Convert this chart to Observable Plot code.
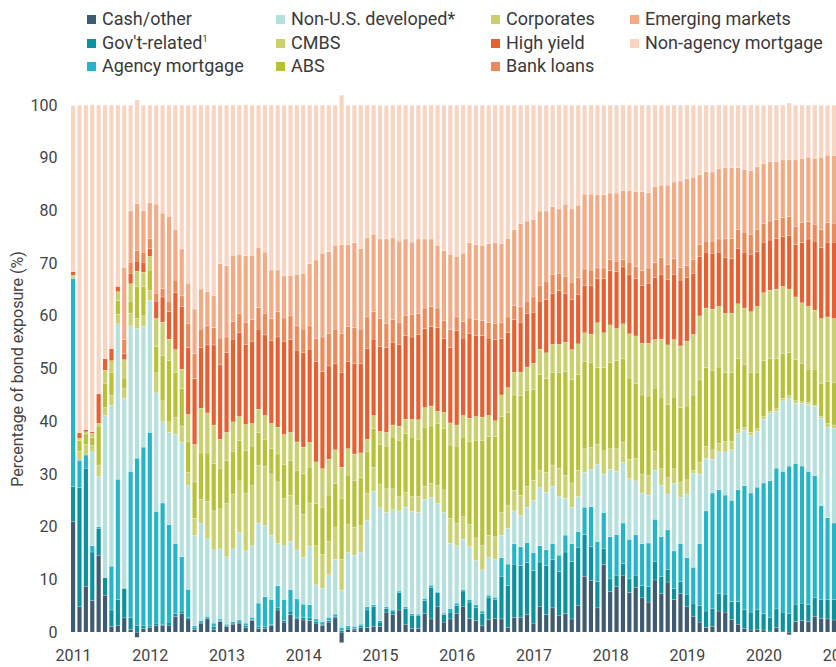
<!DOCTYPE html>
<html><head><meta charset="utf-8">
<script src="https://cdn.jsdelivr.net/npm/d3@7"></script>
<script src="https://cdn.jsdelivr.net/npm/@observablehq/plot@0.6"></script>
<style>
body{margin:0;background:#fff;font-family:Roboto,sans-serif;overflow:hidden}
#legend{position:relative;height:80px;width:836px}
.item{position:absolute;font-size:18px;color:#3a3a3a;line-height:20px;white-space:nowrap}
.sw{display:inline-block;width:9px;height:9px;margin-right:6px;vertical-align:1px}
sup{font-size:9px;vertical-align:7px;line-height:0}
</style></head><body>
<div id="legend"></div><div id="chart"></div>
<script>
const startMonth = "2011-01-01";
const axisEndMonth = "2021-02-01";
const seriesNames = ["Cash/other","Gov't-related","Agency mortgage","Non-U.S. developed*","CMBS","ABS","Corporates","High yield","Bank loans","Emerging markets","Non-agency mortgage"];
const seriesColors = ["#3f5b70","#0a929f","#24b6c6","#b4e0de","#cad26e","#b7c135","#c9d06c","#e8602f","#ee8a5a","#f3ab86","#f9d4c0"];
const yTicks = [0,10,20,30,40,50,60,70,80,90,100];

const cash = [21.0,4.8,8.7,6.0,14.6,7.0,1.1,1.2,2.7,0.5,-1.0,0.7,0.9,1.3,1.2,1.2,3.0,3.5,2.5,0.5,1.7,2.5,0.5,2.0,1.1,1.5,1.7,0.9,2.2,0.7,0.7,1.2,4.2,1.9,3.3,2.5,2.3,2.2,1.7,1.3,1.9,2.7,-2.0,0.5,0.4,0.9,0.9,1.1,1.1,3.8,3.3,4.2,1.5,0.7,0.7,3.5,2.5,4.8,1.9,2.5,3.5,4.8,2.6,2.2,1.3,2.4,2.6,2.5,0.9,2.8,2.8,3.3,1.7,4.8,3.3,4.6,3.2,3.5,2.5,5.0,10.6,9.8,4.6,12.8,7.7,8.6,10.8,7.5,8.5,6.5,5.7,9.9,7.3,9.5,6.2,7.3,4.8,3.0,1.9,0.9,1.1,4.0,3.8,2.4,1.5,0.7,0.4,0.5,0.4,0.2,0.9,0.2,-0.5,2.0,2.2,2.0,3.0,2.6,2.5,2.3];
const govRelated = [6.6,22.6,22.4,9.2,5.1,3.3,3.1,5.0,5.6,2.3,1.3,0.6,0.3,0.4,0.3,0.7,0.5,0.5,0.3,0.3,0.2,0.2,0.5,0.2,0.2,0.2,0.2,0.3,0.2,0.3,0.3,0.2,0.4,0.3,0.7,0.3,0.5,0.5,0.3,0.2,0.3,0.3,0.3,0.3,0.3,0.3,3.3,3.7,0.8,0.7,0.7,3.3,3.0,2.5,2.5,2.5,6.0,2.7,1.4,1.3,1.5,3.0,3.1,2.4,2.2,4.1,3.6,8.1,7.9,10.1,9.8,9.9,10.0,8.5,9.3,9.2,8.3,11.7,10.9,11.1,7.9,6.4,5.0,3.0,2.4,2.2,2.2,2.6,2.3,2.3,2.9,3.5,3.2,2.4,2.1,2.3,2.4,2.5,3.1,3.1,3.4,3.3,3.4,3.4,4.3,3.6,3.4,3.8,3.1,2.6,3.5,3.6,3.5,3.3,3.3,3.2,3.5,3.6,3.7,3.9];
const agencyMortgage = [39.5,5.2,2.5,1.2,0.3,0,8.3,22.8,0,27.7,31.7,33.8,36.7,21.2,23.0,18.5,13.3,10.3,5.3,0.4,0.3,0.3,0.7,0.3,0.2,0.3,0.4,0.5,0.4,4.5,5.7,4.8,4.2,4.0,4.1,3.5,2.5,2.5,0.5,0.5,0.6,0.4,0.6,0.4,0.4,0.3,0.6,0.4,0.3,0.3,0.2,0.3,0.3,0.3,0.2,0.4,0.4,0.2,0.3,0.7,0.5,0.3,0.5,0.6,0.5,0.5,0.4,3.5,4.1,3.9,3.6,3.8,3.4,3.1,3.0,3.0,3.1,3.2,3.4,3.0,5.2,7.6,7.6,6.9,8.0,7.7,7.7,7.5,7.7,8.0,8.3,8.0,7.6,7.5,7.1,7.2,6.9,6.8,11.8,19.0,21.9,19.7,18.8,19.2,21.2,23.5,22.6,23.2,24.8,25.9,26.7,26.7,28.0,26.7,26.0,25.3,23.2,17.8,15.5,14.5];
const nonUSDeveloped = [0,0,0,17.8,9.5,30.8,30.5,29.5,36.1,27.6,24.6,22.9,25.0,22.5,15.4,17.5,20.7,21.7,19.7,17.1,18.5,14.7,13.9,13.3,12.8,13.8,16.6,13.7,13.6,15.2,13.6,12.2,8.1,10.2,9.1,9.3,8.9,11.1,6.5,6.3,8.1,10.4,7.0,13.9,13.5,13.7,16.4,21.5,21.4,17.9,19.0,15.2,18.9,19.4,19.3,18.8,16.7,16.7,19.1,12.4,10.9,9.5,10.0,8.4,7.8,7.1,7.2,4.3,6.8,6.2,5.9,6.7,9.9,11.0,10.9,10.9,11.1,7.0,6.9,6.6,6.6,7.1,14.6,7.3,12.8,12.0,11.5,11.5,10.2,9.6,9.1,9.3,9.7,6.8,12.8,8.8,12.1,17.8,13.2,10.0,6.4,7.2,8.2,9.6,10.7,10.5,10.9,10.6,12.1,12.8,10.8,13.4,12.9,11.4,11.9,12.7,13.1,16.6,17.2,18.0];
const cmbs = [0.3,1.7,2.0,1.2,2.2,1.6,1.9,1.8,1.8,2.4,1.9,2.0,1.9,3.8,4.0,2.0,3.3,3.1,2.5,3.3,4.5,7.1,7.4,7.6,10.1,10.4,9.8,11.0,11.4,11.0,11.2,11.6,11.6,9.0,8.8,8.4,8.2,8.2,7.4,6.5,6.3,6.0,5.9,5.4,5.3,5.0,5.2,4.6,4.4,4.5,4.0,2.7,2.8,2.8,3.0,2.5,2.6,3.4,4.3,4.7,4.3,4.3,4.2,4.3,4.6,4.3,4.3,4.3,4.3,3.9,3.9,4.0,3.8,3.3,3.8,4.0,5.4,4.3,4.6,5.0,4.5,4.2,3.8,4.4,3.9,4.3,3.8,3.7,4.3,3.6,3.7,3.6,3.2,3.1,2.8,2.9,2.7,0.6,2.2,2.3,1.8,1.6,2.0,1.6,0.7,0.6,0.6,0.5,0.5,0.4,0.5,0.5,0.5,0.5,0.3,0.4,0.2,0.3,0.7,0.6];
const abs = [0,2.0,2.0,1.5,7.4,4.4,4.3,2.6,2.0,2.3,6.1,5.6,3.9,5.0,8.6,11.6,8.4,7.1,5.9,6.9,8.8,9.2,9.0,7.7,8.2,8.0,7.6,8.1,7.5,6.2,5.1,4.8,5.3,6.4,6.5,6.7,7.7,6.8,8.0,8.9,8.8,8.4,11.6,9.3,8.9,9.1,7.8,7.3,7.6,8.1,9.8,10.7,11.2,11.3,10.9,11.2,10.9,11.8,11.6,13.9,14.6,15.1,15.7,18.5,19.9,18.7,19.0,18.2,17.7,18.1,18.9,18.2,17.2,18.2,17.8,17.6,18.1,19.8,19.6,18.2,16.5,16.1,14.6,15.8,16.4,16.7,15.9,15.4,14.2,15.0,15.1,12.0,13.6,13.9,13.6,14.1,14.0,14.3,15.7,14.9,15.1,14.5,13.0,13.0,13.5,11.8,11.3,10.6,10.6,10.0,9.5,8.4,8.1,7.8,7.3,6.3,6.9,6.3,7.9,8.0];
const corporates = [0.3,0.5,0.4,0.8,0.5,2.6,2.3,1.7,3.5,3.3,2.9,2.7,2.6,5.3,6.3,4.1,4.4,3.7,5.1,7.1,8.5,7.6,7.3,5.5,5.3,5.7,4.6,4.9,4.3,4.4,4.5,4.8,5.1,5.7,5.4,5.4,5.0,4.7,7.9,7.3,6.8,6.4,5.9,5.0,5.0,4.7,2.4,2.5,2.5,2.6,2.3,2.7,2.7,3.4,3.7,3.7,3.8,2.3,3.1,4.2,4.0,4.1,4.5,4.5,4.5,4.0,3.0,4.1,4.7,4.3,4.4,4.4,5.0,4.8,4.9,5.3,5.4,5.5,5.7,5.8,5.5,5.3,8.5,6.6,7.1,6.1,6.6,8.4,9.0,9.8,10.0,9.2,11.0,11.3,10.9,11.7,12.3,11.5,12.1,11.3,11.6,11.5,11.3,11.3,10.4,10.8,11.6,12.6,12.9,13.0,13.2,12.8,12.1,11.9,11.5,11.9,11.2,12.3,12.3,12.2];
const highYield = [0.7,1.0,0.4,0.3,5.6,2.2,2.3,1.0,1.1,2.0,1.9,1.9,1.5,3.3,4.8,5.2,10.8,11.9,12.7,12.5,11.5,12.9,15.2,14.1,15.1,15.7,15.9,15.2,15.6,15.2,15.3,15.7,17.1,17.7,17.6,17.4,17.9,17.7,19.0,18.4,17.7,16.3,17.9,16.5,17.1,17.0,17.2,14.5,16.1,16.1,15.7,15.5,15.9,15.6,16.2,15.0,15.1,15.9,14.0,14.3,17.9,14.7,16.1,15.4,15.5,14.7,15.4,10.7,10.4,10.0,9.5,10.2,9.7,9.1,10.1,9.6,10.2,9.2,9.5,9.4,9.0,9.3,8.4,10.3,10.3,10.8,10.8,11.3,10.9,11.0,11.4,11.8,12.3,12.4,12.4,12.5,12.1,11.6,11.3,10.6,10.6,10.3,10.6,10.4,10.5,10.6,10.9,10.4,9.6,9.5,9.6,9.4,10.1,9.9,11.4,12.8,13.1,13.5,14.2,14.5];
const bankLoans = [0,0,0,0,0,0,0,0,2.7,2.1,2.0,1.9,1.9,1.5,1.6,2.0,2.4,2.0,4.5,4.7,3.5,3.6,3.3,5.1,3.0,3.3,3.7,4.2,4.1,4.1,4.1,4.2,4.8,4.4,4.5,4.6,4.5,4.4,4.4,6.6,6.2,6.6,7.4,6.7,6.9,6.5,6.0,5.2,5.3,4.6,4.3,4.2,3.8,4.3,3.9,3.9,3.8,3.7,3.4,3.4,2.6,3.1,2.9,3.0,2.8,2.9,3.0,3.0,3.0,2.7,3.0,2.3,2.9,3.0,3.5,3.7,3.3,3.3,3.3,3.2,3.1,2.9,2.0,2.0,2.1,2.0,1.4,2.3,2.3,2.8,2.9,2.8,3.2,2.8,3.0,2.4,2.2,2.6,2.2,2.1,2.3,2.5,3.6,3.8,3.6,3.8,3.8,4.2,3.5,3.6,3.6,3.7,3.6,3.5,3.8,3.3,3.2,3.4,3.7,3.6];
const emergingMarkets = [0,0,0,0,0,0,0,0,13.7,9.8,8.9,7.9,6.8,16.9,14.3,16.1,9.6,8.9,7.7,8.5,7.6,6.5,6.0,14.1,13.5,12.6,11.2,12.6,12.2,11.4,11.6,9.2,7.9,8.0,7.7,9.8,10.6,11.8,14.9,15.9,15.5,15.9,16.9,15.5,16.1,15.3,15.0,14.7,15.1,16.0,15.5,15.4,14.5,13.7,14.2,13.1,12.8,11.9,13.3,14.3,11.5,13.0,14.3,14.2,14.3,15.0,15.4,15.0,14.9,14.4,15.7,15.2,14.7,14.1,13.3,12.8,12.2,13.7,13.9,13.7,14.2,14.4,13.9,13.9,12.6,12.9,13.1,13.6,14.2,15.0,14.3,14.4,13.7,15.1,14.5,16.4,16.5,15.6,13.3,13.2,13.1,13.3,13.4,13.4,11.7,11.9,12.1,11.9,11.4,11.3,11.0,10.9,10.8,12.6,12.2,12.2,12.5,13.7,12.8,12.8];
const nonAgencyMortgage = [31.5,62.2,61.6,62.1,54.8,48.1,46.2,34.4,30.8,20.0,19.7,20.0,18.5,18.8,20.5,21.1,23.6,27.3,33.8,38.7,34.9,35.4,36.2,30.1,30.5,28.5,28.3,28.7,28.5,27.0,27.9,31.3,31.3,32.4,32.3,32.1,31.9,30.1,29.4,28.1,27.8,26.6,28.4,26.5,26.1,27.2,25.2,24.5,25.4,25.3,25.2,25.8,25.4,26.0,25.4,25.4,25.4,26.6,27.6,28.3,28.7,28.1,26.1,26.5,26.6,26.3,26.1,26.3,25.3,23.6,22.5,22.0,21.7,20.1,20.1,19.3,19.7,18.8,19.7,19.0,16.9,16.9,17.0,17.0,16.7,16.7,16.2,16.2,16.4,16.4,16.6,15.5,15.2,15.2,14.6,14.4,14.0,13.7,13.2,12.6,12.7,12.1,11.9,11.9,11.9,12.2,12.4,11.7,11.1,10.7,10.7,10.4,10.8,10.4,10.1,9.9,10.1,9.9,9.5,9.6];

const seriesValues = [cash, govRelated, agencyMortgage, nonUSDeveloped, cmbs, abs, corporates, highYield, bankLoans, emergingMarkets, nonAgencyMortgage];

// month axis: one band per month, the last (Jan 2021) band carries only the clipped year label
const months = d3.utcMonths(new Date(startMonth), new Date(axisEndMonth));
const yearStarts = months.filter(d => d.getUTCMonth() === 0);

const data = [];
seriesValues.forEach((vals, si) => vals.forEach((v, i) => {
  data.push({month: months[i], series: seriesNames[si], value: v});
}));

// legend
const legendLayout = [
  [0,0],[0,1],[0,2],[1,0],[1,1],[1,2],[2,0],[2,1],[2,2],[3,0],[3,1]
];
const colX = [87, 276, 491, 630];
const rowY = [9, 33, 56];
const legend = document.getElementById("legend");
seriesNames.forEach((name, i) => {
  const [c, r] = legendLayout[i];
  const el = document.createElement("div");
  el.className = "item";
  el.style.left = colX[c] + "px";
  el.style.top = rowY[r] + "px";
  const sw = document.createElement("span");
  sw.className = "sw";
  sw.style.background = seriesColors[i];
  el.appendChild(sw);
  el.appendChild(document.createTextNode(name));
  if (name === "Gov't-related") {
    const s = document.createElement("sup"); s.textContent = "1"; el.appendChild(s);
  }
  legend.appendChild(el);
});

const chart = Plot.plot({
  width: 836,
  height: 587,
  marginTop: 25,
  marginBottom: 35,
  marginLeft: 71,
  marginRight: -6.4,
  style: {fontFamily: "Roboto, sans-serif", fontSize: "16px", color: "#444", background: "white"},
  x: {type: "band", domain: months, paddingInner: 0.35, paddingOuter: 0, align: 0.5},
  y: {domain: [0, 100]},
  color: {domain: seriesNames, range: seriesColors},
  marks: [
    Plot.barY(data, {x: "month", y: "value", fill: "series", order: seriesNames, insetTop: 0.3}),
    Plot.axisX(yearStarts, {tickFormat: d => String(d.getUTCFullYear()), tickSize: 0, tickPadding: 17, label: null, fontSize: 16}),
    Plot.axisY(yTicks, {tickSize: 0, tickPadding: 14, label: "Percentage of bond exposure (%)", labelAnchor: "center", labelArrow: "none", labelOffset: 60, fontSize: 16})
  ]
});
document.getElementById("chart").appendChild(chart);
</script>
</body></html>
